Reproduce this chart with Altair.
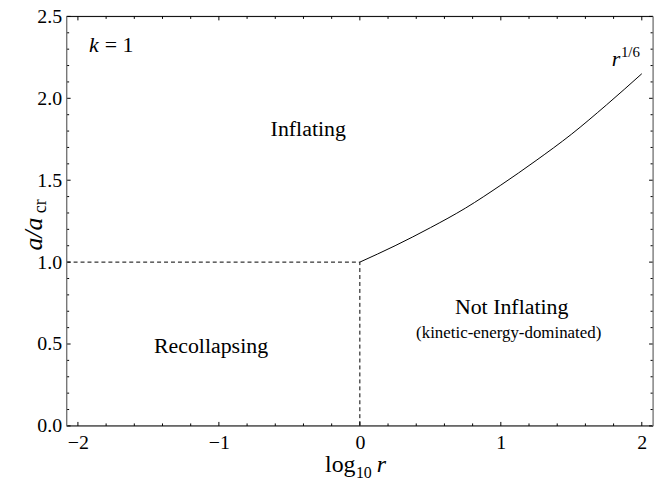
import altair as alt
import pandas as pd

# ---- data ----
curve_x = [0.0, 0.25, 0.5, 0.75, 1.0, 1.25, 1.5, 1.75, 2.0]
curve_y = [1.00, 1.10, 1.21, 1.33, 1.47, 1.62, 1.78, 1.96, 2.15]

boundary_x = [-2.08, 0.0, 0.0]
boundary_y = [1.0, 1.0, 0.0]

x_major = [-2, -1, 0, 1, 2]
x_minor = [-1.8, -1.6, -1.4, -1.2, -0.8, -0.6, -0.4, -0.2,
           0.2, 0.4, 0.6, 0.8, 1.2, 1.4, 1.6, 1.8]
y_major = [0.0, 0.5, 1.0, 1.5, 2.0, 2.5]
y_minor = [0.1, 0.2, 0.3, 0.4, 0.6, 0.7, 0.8, 0.9, 1.1, 1.2, 1.3, 1.4,
           1.6, 1.7, 1.8, 1.9, 2.1, 2.2, 2.3, 2.4]

region_text = ["Inflating", "Recollapsing", "Not Inflating"]
region_x = [-0.366, -1.056, 1.077]
region_y = [1.81, 0.485, 0.728]

note_text = ["(kinetic-energy-dominated)"]
note_x = [1.056]
note_y = [0.570]

W, H = 590, 412
FONT = "Times New Roman, Liberation Serif, Times, serif"

xs = alt.Scale(domain=[-2.08, 2.08], nice=False, zero=False)
ys = alt.Scale(domain=[0, 2.5], nice=False, zero=False)
xaxis = alt.Axis(values=x_major, format="d", title=None, grid=False, domain=False,
                 ticks=False, labelFont=FONT, labelFontSize=20, labelColor="black",
                 labelPadding=7)
yaxis = alt.Axis(values=y_major, format=".1f", title=None, grid=False, domain=False,
                 ticks=False, labelFont=FONT, labelFontSize=20, labelColor="black",
                 labelPadding=5)


def X(f="x"):
    return alt.X(f + ":Q", scale=xs, axis=xaxis)


def Y(f="y"):
    return alt.Y(f + ":Q", scale=ys, axis=yaxis)


one = pd.DataFrame({"d": [0]})

curve = alt.Chart(pd.DataFrame({"x": curve_x, "y": curve_y})).mark_line(
    color="black", strokeWidth=1, interpolate="monotone").encode(x=X(), y=Y())

boundary = alt.Chart(pd.DataFrame({"x": boundary_x, "y": boundary_y,
                                   "o": list(range(len(boundary_x)))})).mark_line(
    color="black", strokeWidth=1, strokeDash=[4, 3]).encode(
    x=X(), y=Y(), order="o:O")

# frame
frame_h = alt.Chart(one).mark_rule(color="black", strokeWidth=1)
frame_v = alt.Chart(one).mark_rule(color="#777777", strokeWidth=1.3)
frame = [
    frame_h.encode(x=alt.value(0), x2=alt.value(W), y=alt.value(0)),
    frame_h.encode(x=alt.value(0), x2=alt.value(W), y=alt.value(H)),
    frame_v.encode(y=alt.value(0), y2=alt.value(H), x=alt.value(0)),
    frame_v.encode(y=alt.value(0), y2=alt.value(H), x=alt.value(W)),
]


# inward ticks
def xticks(vals, ln):
    d = alt.Chart(pd.DataFrame({"x": vals})).mark_rule(color="black", strokeWidth=1)
    return [d.encode(x=X(), y=alt.value(H), y2=alt.value(H - ln)),
            d.encode(x=X(), y=alt.value(0), y2=alt.value(ln))]


def yticks(vals, ln):
    d = alt.Chart(pd.DataFrame({"y": vals})).mark_rule(color="black", strokeWidth=1)
    return [d.encode(y=Y(), x=alt.value(0), x2=alt.value(ln)),
            d.encode(y=Y(), x=alt.value(W), x2=alt.value(W - ln))]


ticks = xticks(x_major, 4) + xticks(x_minor, 2.5) + yticks(y_major, 4) + yticks(y_minor, 2.5)

regions = alt.Chart(pd.DataFrame({"x": region_x, "y": region_y, "t": region_text})).mark_text(
    font=FONT, fontSize=22, color="black", align="center", baseline="middle").encode(
    x=X(), y=Y(), text="t:N")

note = alt.Chart(pd.DataFrame({"x": note_x, "y": note_y, "t": note_text})).mark_text(
    font=FONT, fontSize=17, color="black", align="center", baseline="middle").encode(
    x=X(), y=Y(), text="t:N")

# k = 1
k_it = alt.Chart(pd.DataFrame({"x": [-1.887], "y": [2.324], "t": ["k"]})).mark_text(
    font=FONT, fontSize=22, fontStyle="italic", color="black", align="center",
    baseline="middle").encode(x=X(), y=Y(), text="t:N")
k_eq = alt.Chart(pd.DataFrame({"x": [-1.81], "y": [2.324], "t": ["= 1"]})).mark_text(
    font=FONT, fontSize=22, color="black", align="left",
    baseline="middle").encode(x=X(), y=Y(), text="t:N")

# r^{1/6}
r_it = alt.Chart(pd.DataFrame({"x": [1.817], "y": [2.24], "t": ["r"]})).mark_text(
    font=FONT, fontSize=22, fontStyle="italic", color="black", align="center",
    baseline="middle").encode(x=X(), y=Y(), text="t:N")
r_exp = alt.Chart(pd.DataFrame({"x": [1.852], "y": [2.285], "t": ["1/6"]})).mark_text(
    font=FONT, fontSize=15, color="black", align="left",
    baseline="middle").encode(x=X(), y=Y(), text="t:N")

# axis titles built from pieces (for sub/superscripts)
xt = [
    alt.Chart(one).mark_text(font=FONT, fontSize=24, color="black", align="left",
                             baseline="alphabetic").encode(
        x=alt.value(327 - 67), y=alt.value(473 - 15), text=alt.value("log")),
    alt.Chart(one).mark_text(font=FONT, fontSize=16, color="black", align="left",
                             baseline="alphabetic").encode(
        x=alt.value(358 - 67), y=alt.value(479 - 15), text=alt.value("10")),
    alt.Chart(one).mark_text(font=FONT, fontSize=24, fontStyle="italic", color="black",
                             align="left", baseline="alphabetic").encode(
        x=alt.value(379 - 67), y=alt.value(473 - 15), text=alt.value("r")),
]
yt = [
    alt.Chart(one).mark_text(font=FONT, fontSize=26, fontStyle="italic", color="black",
                             align="center", baseline="alphabetic", angle=270).encode(
        x=alt.value(-25), y=alt.value(219), text=alt.value("a/a")),
    alt.Chart(one).mark_text(font=FONT, fontSize=18, color="black",
                             align="center", baseline="alphabetic", angle=270).encode(
        x=alt.value(-21), y=alt.value(191), text=alt.value("cr")),
]

chart = alt.layer(
    boundary, curve, *ticks, *frame, regions, note, k_it, k_eq, r_it, r_exp, *xt, *yt
).properties(
    width=W, height=H,
    autosize=alt.AutoSizeParams(type="none"),
    padding={"left": 59, "top": 7, "right": 10, "bottom": 60},
).configure_view(stroke=None).configure(background="white")

chart.save("out.html", embed_options={"renderer": "svg", "actions": False})
